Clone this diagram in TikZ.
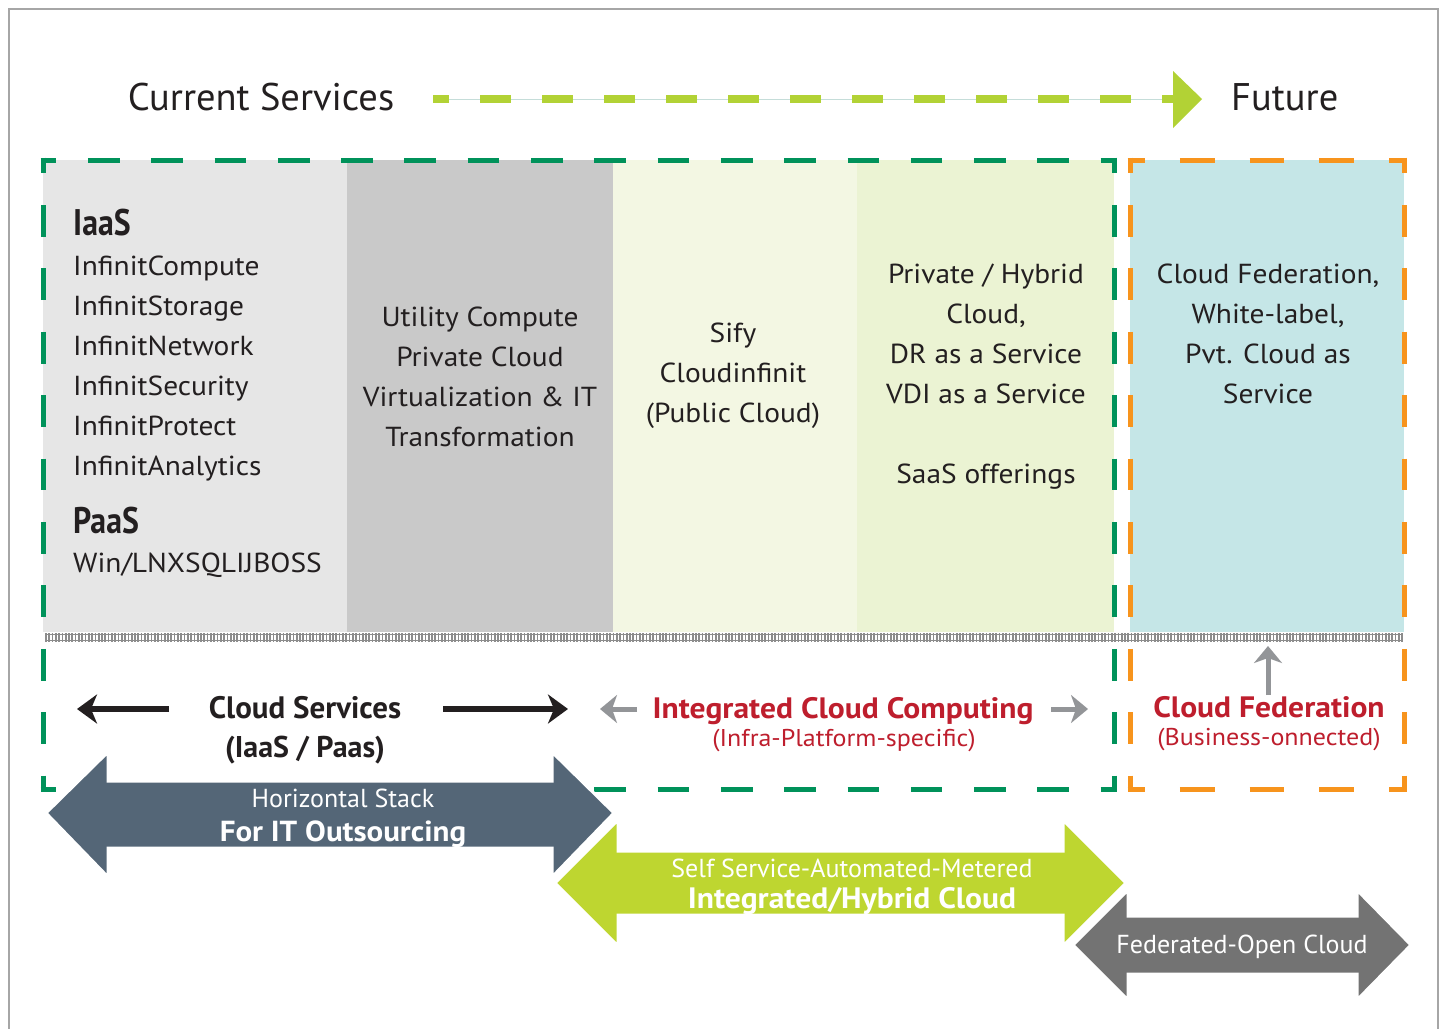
\documentclass[tikz,border=0pt]{standalone}
\usepackage{fontspec}
\setmainfont{PT Sans}
\newfontfamily\cnd{PT Sans}[FakeStretch=0.86]
\newfontfamily\wideff{PT Sans}[FakeStretch=1.07]
\usetikzlibrary{arrows.meta}
\definecolor{ink}{HTML}{231F20}
\definecolor{framec}{HTML}{A6A6A6}
\definecolor{dgreen}{HTML}{00925A}
\definecolor{dorange}{HTML}{F7941D}
\definecolor{lime}{HTML}{B2D235}
\definecolor{bigg}{HTML}{BED630}
\definecolor{slate}{HTML}{546677}
\definecolor{fgray}{HTML}{737373}
\definecolor{redc}{HTML}{BE1E2D}
\definecolor{sgray}{HTML}{939598}
\definecolor{colA}{HTML}{E6E6E6}
\definecolor{colB}{HTML}{C9C9C9}
\definecolor{colC}{HTML}{F3F7E3}
\definecolor{colD}{HTML}{EBF3D3}
\definecolor{colE}{HTML}{C5E6E7}
\definecolor{hatch}{HTML}{8C8C8C}
\definecolor{thinl}{HTML}{C5DDD9}
\newcommand\fs[1]{\fontsize{#1}{#1}\selectfont}
% dashed box with L-shaped corners: x1 y1 x2 y2 nx ny colour
\newcommand\dbox[7]{%
  \pgfmathsetmacro\dbpx{(#3-#1+5)/#5}%
  \pgfmathsetmacro\dbpy{(#4-#2+5)/#6}%
  \pgfmathsetmacro\dbhx{\dbpx/2}\pgfmathsetmacro\dbqx{\dbpx/4}%
  \pgfmathsetmacro\dbhy{\dbpy/2}\pgfmathsetmacro\dbqy{\dbpy/4}%
  \draw[#7, line width=5pt, dash pattern=on \dbhx pt off \dbhx pt, dash phase=\dbqx pt]
    (#1-2.5,#2) -- (#3+2.5,#2) (#1-2.5,#4) -- (#3+2.5,#4);
  \draw[#7, line width=5pt, dash pattern=on \dbhy pt off \dbhy pt, dash phase=\dbqy pt]
    (#1,#2-2.5) -- (#1,#4+2.5) (#3,#2-2.5) -- (#3,#4+2.5);
}
\begin{document}
\begin{tikzpicture}[x=1pt,y=-1pt,
  txt/.style={inner sep=0pt, anchor=base, text=ink},
  wtxt/.style={inner sep=0pt, anchor=base, text=white},
  rtxt/.style={inner sep=0pt, anchor=base, text=redc},
  coltxt/.style={txt, font=\wideff\fs{27.5}},
  blackarrow/.style={draw=ink, line width=5.5pt, -{Stealth[length=20pt, width=29pt, inset=6pt]}},
  grayarrow/.style={draw=sgray, line width=5pt, -{Stealth[length=17pt, width=28pt, inset=5pt]}},
  bigarrow/.style={draw=white, line width=3pt, line join=miter}]
\useasboundingbox (0,0) rectangle (1445,1028);
\clip (0,0) rectangle (1445,1028);
\fill[white] (0,0) rectangle (1445,1028);
% frame
\draw[framec, line width=1.6pt] (9,1060) -- (9,9) -- (1438,9) -- (1438,1060);

% top timeline
\node[txt, font=\fs{38.5}] (cur) at (261,110) {Current Services};
\node[txt, anchor=base west, font=\fs{38.5}] (fut) at (1231,110) {Future};
\coordinate (ts) at (433,99);
\coordinate (te) at (1180,99);
\coordinate (tip) at (1202,99);
\draw[thinl, line width=1pt] (ts) -- (te);
\draw[lime, line width=8pt, dash pattern=on 31pt off 31pt, dash phase=15pt] (ts) -- (te);
\fill[lime] (1173,71) -- (tip) -- (1173,128) -- cycle;

% column fills
\fill[colA] (43,160) rectangle (347,632);
\fill[colB] (347,160) rectangle (613,632);
\fill[colC] (613,160) rectangle (857,632);
\fill[colD] (857,160) rectangle (1114,632);
\fill[colE] (1130,160) rectangle (1404,632);

% hatched band
\draw[hatch, line width=9pt, dash pattern=on 1.7pt off 1.6pt] (45,637.5) -- (1403,637.5);
\draw[hatch, line width=1.4pt] (45,634.5) -- (1403,634.5) (45,640.5) -- (1403,640.5);

% dashed boxes
\dbox{43}{160}{1114}{789}{17}{10}{dgreen}
\dbox{1130}{160}{1404}{789}{4}{10}{dorange}

% column 1
\node[txt, anchor=base west, font=\cnd\bfseries\fs{37}] (iaas) at (73,235) {IaaS};
\foreach \t [count=\i] in {InfinitCompute,InfinitStorage,InfinitNetwork,InfinitSecurity,InfinitProtect,InfinitAnalytics}
  \node[coltxt, anchor=base west] (cA\i) at (73,235+40*\i) {\t};
\node[txt, anchor=base west, font=\cnd\bfseries\fs{37}] (paas) at (73,533) {PaaS};
\node[coltxt, anchor=base west] (win) at (73,572) {Win/LNXSQLIJBOSS};

% column 2
\foreach \t [count=\i] in {Utility Compute,Private Cloud,Virtualization \& IT,Transformation}
  \node[coltxt] (cB\i) at (480,286+40*\i) {\t};
% column 3
\foreach \t [count=\i] in {Sify,Cloudinfinit,(Public Cloud)}
  \node[coltxt] (cC\i) at (733,302+40*\i) {\t};
% column 4
\foreach \t [count=\i] in {Private / Hybrid,{Cloud,},DR as a Service,VDI as a Service}
  \node[coltxt] (cD\i) at (986,243+40*\i) {\t};
\node[coltxt] (saas) at (986,483) {SaaS offerings};
% column 5
\foreach \t [count=\i] in {{Cloud Federation,},{White-label,},Pvt. Cloud as,Service}
  \node[coltxt] (cE\i) at (1268,243+40*\i) {\t};

% lower labels
\node[txt, font=\bfseries\fs{31}] (cs1) at (305,718) {Cloud Services};
\node[txt, font=\bfseries\fs{30}] (cs2) at (305,757) {(IaaS / Paas)};
\coordinate (bl0) at (169,709); \coordinate (bl1) at (77,709);
\coordinate (br0) at (443,709); \coordinate (br1) at (568,709);
\draw[blackarrow] (bl0) -- (bl1);
\draw[blackarrow] (br0) -- (br1);

\node[rtxt, font=\wideff\bfseries\fs{29.5}] (icc) at (843,718) {Integrated Cloud Computing};
\node[rtxt, font=\wideff\fs{24.3}] (icc2) at (844,746) {(Infra-Platform-specific)};
\coordinate (gl0) at (637,709); \coordinate (gl1) at (600,709);
\coordinate (gr0) at (1051,709); \coordinate (gr1) at (1088,709);
\draw[grayarrow] (gl0) -- (gl1);
\draw[grayarrow] (gr0) -- (gr1);

\node[rtxt, font=\wideff\bfseries\fs{29.5}] (cf) at (1269,717) {Cloud Federation};
\node[rtxt, font=\wideff\fs{24.3}] (cf2) at (1269,745) {(Business-onnected)};
\coordinate (up0) at (1268,695); \coordinate (up1) at (1268,646);
\draw[grayarrow] (up0) -- (up1);

% big double arrows
\filldraw[fill=slate, bigarrow] (46,813) -- (108,752) -- (108,781) -- (552,781) -- (552,752) -- (614,813)
  -- (552,877) -- (552,848) -- (108,848) -- (108,877) -- cycle;
\node[wtxt, font=\fs{26}] (hs1) at (343,807) {Horizontal Stack};
\node[wtxt, font=\wideff\bfseries\fs{29}] (hs2) at (343,841) {For IT Outsourcing};

\filldraw[fill=bigg, bigarrow] (555,883) -- (618,820) -- (618,851) -- (1063,851) -- (1063,820) -- (1126,883)
  -- (1063,946) -- (1063,915) -- (618,915) -- (618,946) -- cycle;
\node[wtxt, font=\fs{26}] (ih1) at (852,877) {Self Service-Automated-Metered};
\node[wtxt, font=\wideff\bfseries\fs{29.5}] (ih2) at (852,908) {Integrated/Hybrid Cloud};

\filldraw[fill=fgray, bigarrow] (1073,945) -- (1128,890) -- (1128,916) -- (1357,916) -- (1357,890) -- (1411,945)
  -- (1357,1000) -- (1357,974) -- (1128,974) -- (1128,1000) -- cycle;
\node[wtxt, font=\fs{26}] (fo) at (1242,953) {Federated-Open Cloud};
\end{tikzpicture}
\end{document}
